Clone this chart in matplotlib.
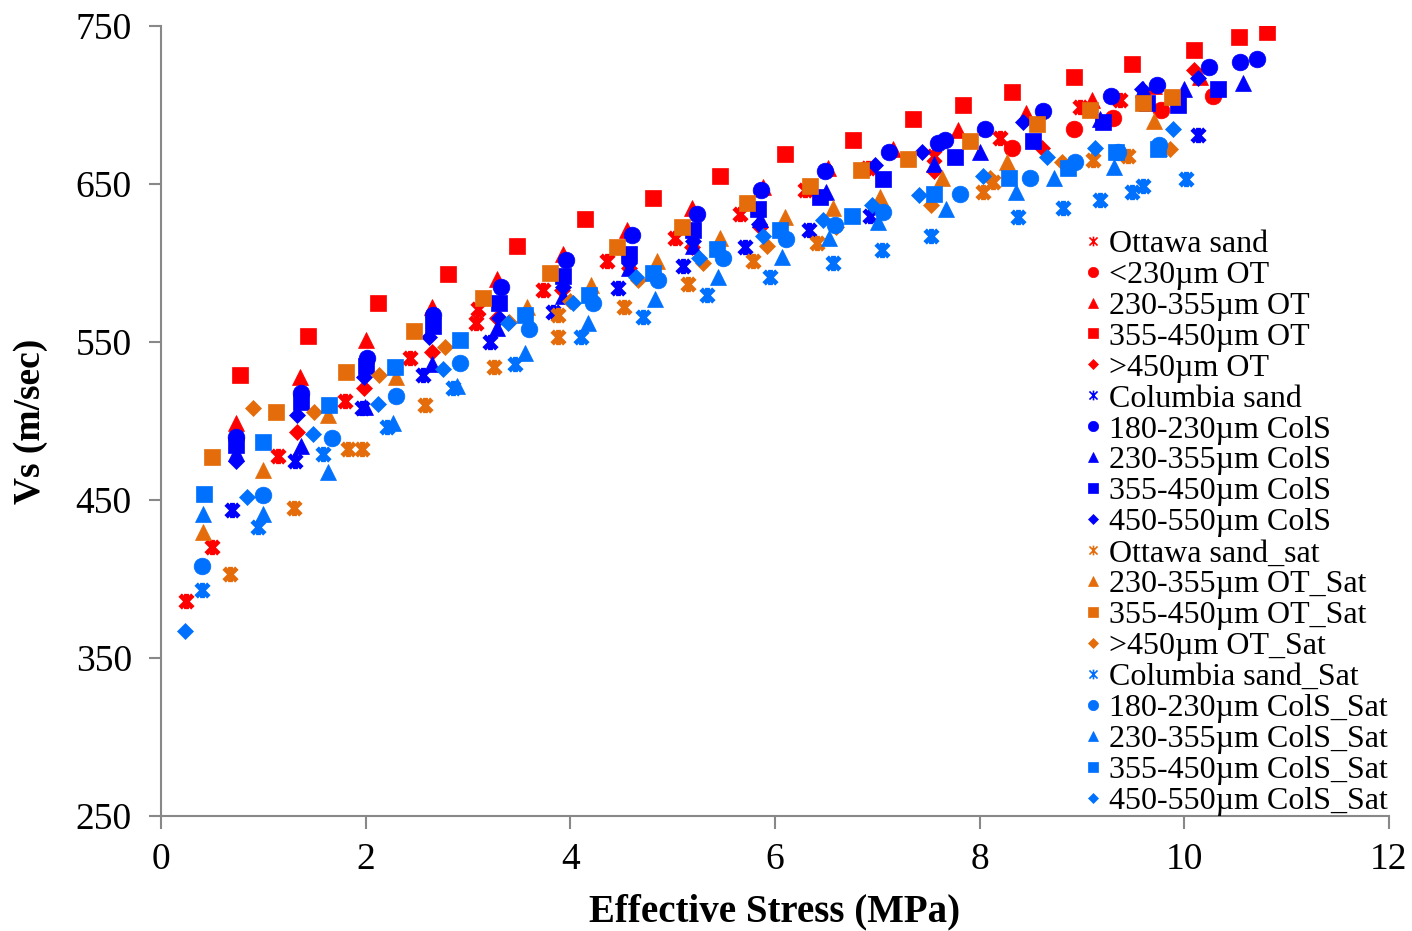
import matplotlib as mpl
import matplotlib.pyplot as plt
from matplotlib.path import Path
from matplotlib.lines import Line2D

mpl.rcParams['font.family'] = ['Liberation Serif', 'DejaVu Serif']

# data (x: effective stress MPa, y: Vs m/sec)
ott_x = [0.24, 0.50, 1.14, 1.80, 2.43, 3.08, 3.10, 3.73, 4.36, 5.02, 5.66, 6.29, 6.91, 7.55, 8.20, 8.98, 9.37]
ott_y = [386, 420, 478, 513, 540, 562, 571, 583, 601, 616, 631, 646, 660, 668, 679, 699, 703]

ot230_x = [8.32, 8.92, 9.30, 9.77, 10.28]
ot230_y = [673, 685, 692, 697, 706]

ot355_x = [0.73, 1.36, 2.00, 2.65, 3.28, 3.93, 4.55, 5.19, 5.88, 6.52, 7.15, 7.79, 8.45, 9.10, 9.70, 10.15]
ot355_y = [499, 528, 551, 572, 590, 606, 621, 635, 648, 660, 672, 684, 695, 703, 712, 718]

ot450_x = [0.77, 1.44, 2.12, 2.80, 3.48, 4.14, 4.81, 5.46, 6.10, 6.76, 7.35, 7.84, 8.32, 8.92, 9.49, 10.09, 10.53, 10.81]
ot450_y = [529, 554, 575, 593, 611, 628, 641, 655, 669, 678, 691, 700, 708, 718, 726, 735, 743, 746]

otgt_x = [1.33, 1.98, 2.65, 3.28, 3.92, 4.57, 5.19, 5.85, 7.55, 8.61, 10.09]
otgt_y = [493, 521, 544, 565, 583, 597, 610, 623, 658, 673, 722]

col_x = [0.69, 1.31, 1.96, 2.56, 3.22, 3.83, 4.47, 5.10, 5.71, 6.33, 6.93, 10.13]
col_y = [444, 475, 508, 529, 550, 569, 584, 598, 610, 621, 630, 681]

col180_x = [0.73, 1.37, 2.01, 2.66, 3.32, 3.96, 4.60, 5.24, 5.86, 6.49, 7.11, 7.59, 7.66, 8.05, 8.62, 9.28, 9.73, 10.24, 10.54, 10.71]
col180_y = [490, 518, 540, 567, 585, 602, 618, 631, 646, 658, 670, 676, 678, 685, 696, 706, 713, 724, 727, 729]

col230_x = [0.73, 1.37, 1.99, 2.65, 3.28, 3.93, 4.57, 5.20, 5.85, 6.50, 7.55, 8.00, 9.18, 9.60, 10.00, 10.57]
col230_y = [480, 484, 509, 536, 559, 579, 597, 611, 628, 645, 663, 670, 691, 710, 710, 714]

col355_x = [0.73, 1.37, 2.00, 2.66, 3.30, 3.93, 4.57, 5.20, 5.83, 6.44, 7.06, 7.76, 8.52, 9.21, 9.64, 9.94, 10.33]
col355_y = [485, 512, 535, 560, 575, 592, 606, 621, 634, 642, 653, 667, 677, 689, 701, 700, 710]

col450_x = [0.73, 1.33, 1.98, 2.62, 3.30, 3.93, 4.57, 5.20, 5.84, 6.98, 7.44, 8.42, 9.59, 10.13]
col450_y = [475, 504, 528, 553, 565, 585, 600, 614, 625, 662, 670, 689, 710, 717]

otsat_x = [0.67, 1.30, 1.83, 1.96, 2.58, 3.25, 3.88, 3.88, 4.52, 5.15, 5.79, 6.41, 8.03, 8.13, 9.11, 9.45]
otsat_y = [403, 445, 482, 482, 510, 534, 553, 567, 572, 587, 601, 613, 645, 651, 665, 668]

ots230_x = [0.41, 1.00, 1.63, 2.30, 3.58, 4.20, 4.85, 5.46, 6.10, 6.57, 7.03, 7.63, 8.27, 9.70]
ots230_y = [430, 469, 504, 528, 572, 586, 601, 616, 629, 635, 642, 654, 664, 690]

ots355_x = [0.50, 1.12, 1.81, 2.47, 3.15, 3.80, 4.46, 5.09, 5.73, 6.34, 6.84, 7.30, 7.91, 8.56, 9.08, 9.60, 9.88]
ots355_y = [477, 506, 531, 557, 578, 594, 610, 623, 638, 649, 659, 666, 677, 688, 697, 701, 705]

otsgt_x = [0.90, 1.50, 2.13, 2.78, 3.40, 4.00, 4.66, 5.30, 5.92, 6.60, 7.52, 8.10, 8.80, 9.86]
otsgt_y = [508, 506, 529, 547, 563, 576, 589, 600, 611, 623, 637, 654, 664, 672]

colsat_x = [0.40, 0.95, 1.58, 2.21, 2.85, 3.46, 4.10, 4.71, 5.34, 5.95, 6.57, 7.05, 7.52, 8.37, 8.81, 9.18, 9.49, 9.60, 10.02]
colsat_y = [393, 433, 479, 496, 521, 536, 553, 566, 580, 591, 600, 608, 617, 629, 635, 640, 645, 649, 653]

cs180_x = [0.40, 1.00, 1.67, 2.30, 2.92, 3.60, 4.22, 4.86, 5.49, 6.11, 6.59, 7.06, 7.81, 8.49, 8.93, 9.35, 9.75]
cs180_y = [408, 453, 489, 516, 537, 558, 575, 589, 603, 615, 624, 632, 644, 654, 664, 670, 675]

cs230_x = [0.41, 1.00, 1.63, 2.27, 2.89, 3.56, 4.17, 4.83, 5.44, 6.07, 6.53, 7.01, 7.67, 8.36, 8.73, 9.31, 9.75]
cs230_y = [441, 441, 468, 499, 522, 543, 562, 577, 591, 604, 616, 626, 634, 645, 654, 661, 673]

cs355_x = [0.42, 1.00, 1.64, 2.29, 2.92, 3.56, 4.18, 4.81, 5.43, 6.05, 6.75, 7.55, 8.29, 8.86, 9.33, 9.74]
cs355_y = [454, 487, 510, 534, 551, 567, 580, 594, 609, 621, 630, 644, 654, 660, 670, 672]

cs450_x = [0.23, 0.84, 1.49, 2.12, 2.76, 3.39, 4.03, 4.64, 5.26, 5.88, 6.47, 6.95, 7.41, 8.03, 8.66, 9.13, 9.89]
cs450_y = [367, 452, 492, 511, 533, 562, 575, 591, 603, 617, 627, 637, 643, 655, 667, 673, 685]

red, blue, orange, lblue = '#FF0000', '#0000FF', '#E46C0A', '#0070FF'

# excel style asterisk: an X with a vertical bar
star = Path([(-1, -1), (1, 1), (-1, 1), (1, -1), (0, -1.2), (0, 1.2)],
            [Path.MOVETO, Path.LINETO, Path.MOVETO, Path.LINETO, Path.MOVETO, Path.LINETO])

series = [
    (ott_x, ott_y, 'Ottawa sand', red, star),
    (ot230_x, ot230_y, '<230µm OT', red, 'o'),
    (ot355_x, ot355_y, '230-355µm OT', red, '^'),
    (ot450_x, ot450_y, '355-450µm OT', red, 's'),
    (otgt_x, otgt_y, '>450µm OT', red, 'D'),
    (col_x, col_y, 'Columbia sand', blue, star),
    (col180_x, col180_y, '180-230µm ColS', blue, 'o'),
    (col230_x, col230_y, '230-355µm ColS', blue, '^'),
    (col355_x, col355_y, '355-450µm ColS', blue, 's'),
    (col450_x, col450_y, '450-550µm ColS', blue, 'D'),
    (otsat_x, otsat_y, 'Ottawa sand_sat', orange, star),
    (ots230_x, ots230_y, '230-355µm OT_Sat', orange, '^'),
    (ots355_x, ots355_y, '355-450µm OT_Sat', orange, 's'),
    (otsgt_x, otsgt_y, '>450µm OT_Sat', orange, 'D'),
    (colsat_x, colsat_y, 'Columbia sand_Sat', lblue, star),
    (cs180_x, cs180_y, '180-230µm ColS_Sat', lblue, 'o'),
    (cs230_x, cs230_y, '230-355µm ColS_Sat', lblue, '^'),
    (cs355_x, cs355_y, '355-450µm ColS_Sat', lblue, 's'),
    (cs450_x, cs450_y, '450-550µm ColS_Sat', lblue, 'D'),
]

sizes = {'o': 12, '^': 12, 's': 11, 'D': 8.5}

fig = plt.figure(figsize=(14.12, 9.31), dpi=100)
ax = fig.add_axes([0.114, 0.1235, 0.8697, 0.8485])

handles = []
for x, y, label, c, m in series:
    if m is star:
        ax.plot(x, y, ls='none', marker=m, ms=11, mew=3.5, mec=c)
        handles.append(Line2D([], [], ls='none', marker=m, ms=7, mew=1.2, mec=c, label=label))
    else:
        ax.plot(x, y, ls='none', marker=m, ms=sizes[m], mec=c, mfc=c, mew=0.5)
        handles.append(Line2D([], [], ls='none', marker=m, ms=sizes[m] * 0.62, mec=c, mfc=c,
                              mew=0.5, label=label))

ax.set_xlim(0, 12)
ax.set_ylim(250, 750)
ax.set_xticks(range(0, 13, 2))
ax.set_yticks(range(250, 751, 100))
for s in ['top', 'right']:
    ax.spines[s].set_visible(False)
for s in ['left', 'bottom']:
    ax.spines[s].set_color('#888888')
    ax.spines[s].set_linewidth(1.5)
ax.tick_params(direction='out', length=9, width=1.5, color='#888888', labelsize=27)
ax.tick_params(axis='y', pad=12)
ax.tick_params(axis='x', pad=10)

ax.set_xlabel('Effective Stress (MPa)', fontsize=28, fontweight='bold', labelpad=12)
ax.set_ylabel('Vs (m/sec)', fontsize=27, fontweight='bold', labelpad=20)

ax.legend(handles=handles, loc='lower left', bbox_to_anchor=(0.752, 0.0), fontsize=23,
          frameon=False, handlelength=0.55, handletextpad=0.22, labelspacing=0.05,
          borderaxespad=0, borderpad=0)

fig.savefig('out.png', dpi=100)
